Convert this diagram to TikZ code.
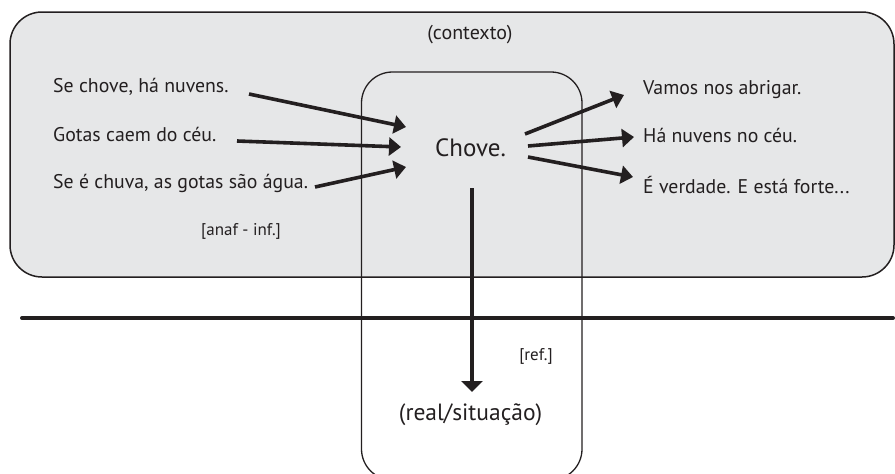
\documentclass[tikz,border=0pt]{standalone}
\usepackage{fontspec}
\setmainfont{PT Sans}
\usetikzlibrary{arrows.meta}
\definecolor{ink}{HTML}{231F20}
\definecolor{paper}{HTML}{E6E7E8}
\tikzset{
  txt/.style={inner sep=0pt, anchor=base west, text=ink, font=\fontsize{19.8}{22}\selectfont},
  small/.style={inner sep=0pt, anchor=base, text=ink, font=\fontsize{17}{19}\selectfont},
  link/.style={draw=ink, line width=3.6pt, -{Triangle[length=12pt,width=18pt]}},
}
\begin{document}
\begin{tikzpicture}[x=1pt,y=-1pt]
  \useasboundingbox (0,0) rectangle (895,474);
  % context box
  \draw[ink, line width=1.5pt, fill=paper, rounded corners=32pt] (10,12) rectangle (894,277);
  % separator
  \draw[ink, line width=4pt, line cap=round] (22,318) -- (893,318);
  % utterance box
  \draw[ink, line width=1.3pt, rounded corners=31pt] (361.5,72) rectangle (582,480);

  % labels
  \node[inner sep=0pt, anchor=base, text=ink, font=\fontsize{20}{22}\selectfont] (ctx) at (470,39) {(contexto)};
  \node[small] (anaf) at (241,235) {[anaf - inf.]};
  \node[small] (ref) at (536,360) {[ref.]};
  \node[inner sep=0pt, anchor=base, text=ink, font=\fontsize{25}{27}\selectfont] (chove) at (470.5,156) {Chove.};
  \node[inner sep=0pt, anchor=base, text=ink, font=\fontsize{23.5}{26}\selectfont] (real) at (470.5,420) {(real/situação)};

  % premises
  \node[txt] (p1) at (53,92) {Se chove, há nuvens.};
  \node[txt] (p2) at (53,141) {Gotas caem do céu.};
  \node[txt] (p3) at (53,188) {Se é chuva, as gotas são água.};
  % consequences
  \node[txt] (c1) at (643,94) {Vamos nos abrigar.};
  \node[txt] (c2) at (643,142) {Há nuvens no céu.};
  \node[txt] (c3) at (643,193) {É verdade. E está forte...};

  % arrow ends
  \coordinate (p1s) at (249,94);
  \coordinate (p2s) at (237,141);
  \coordinate (p3s) at (315,187);
  \coordinate (in1) at (406,127);
  \coordinate (in2) at (401,147);
  \coordinate (in3) at (406,167);
  \coordinate (o1s) at (525,134);
  \coordinate (o2s) at (528,146);
  \coordinate (o3s) at (528,157);
  \coordinate (out1) at (624,95);
  \coordinate (out2) at (634,137);
  \coordinate (out3) at (633,177);
  \coordinate (down) at (472,188);
  \coordinate (reach) at (472,392);

  \draw[link] (p1s) -- (in1);
  \draw[link] (p2s) -- (in2);
  \draw[link] (p3s) -- (in3);
  \draw[link] (o1s) -- (out1);
  \draw[link] (o2s) -- (out2);
  \draw[link] (o3s) -- (out3);
  \draw[draw=ink, line width=3.6pt, -{Triangle[length=11pt,width=21pt]}] (down) -- (reach);
\end{tikzpicture}
\end{document}
